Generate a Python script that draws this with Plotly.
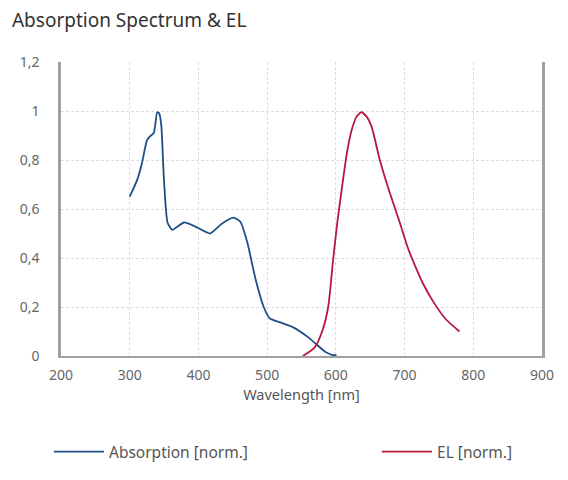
import plotly.graph_objects as go

# Absorption spectrum (normalised)
abs_wl = [300, 311, 318, 325, 329, 335, 337, 340, 343, 346, 350, 355, 362,
          379, 398, 417, 434, 451, 461, 471, 483, 495, 504, 519, 538, 558,
          574, 585, 595, 601]
abs_val = [0.65, 0.72, 0.79, 0.88, 0.895, 0.91, 0.94, 0.995, 0.99, 0.94,
           0.71, 0.545, 0.515, 0.545, 0.525, 0.50, 0.54, 0.565, 0.548, 0.465,
           0.315, 0.20, 0.153, 0.137, 0.117, 0.08, 0.042, 0.016, 0.004,
           0.003]

# Electroluminescence (normalised)
el_wl = [552, 569, 581, 589, 596, 602, 609, 616, 623, 630, 637, 645, 652,
         664, 678, 693, 705, 715, 727, 741, 760, 780]
el_val = [0.0, 0.034, 0.108, 0.203, 0.393, 0.542, 0.69, 0.827, 0.922, 0.976,
          0.995, 0.976, 0.936, 0.80, 0.67, 0.545, 0.44, 0.37, 0.295, 0.225,
          0.15, 0.10]

x_ticks = [200, 300, 400, 500, 600, 700, 800, 900]
y_ticks = [0, 0.2, 0.4, 0.6, 0.8, 1.0, 1.2]
y_labels = ['0', '0,2', '0,4', '0,6', '0,8', '1', '1,2']

blue = '#1E4F86'
red = '#B8173F'
axis_grey = '#A0A0A0'

fig = go.Figure()

fig.add_trace(go.Scatter(
    x=abs_wl,
    y=abs_val,
    mode='lines',
    line=dict(color=blue, width=1.8, shape='spline', smoothing=0.5),
    name='Absorption [norm.]',
    legend='legend',
    showlegend=True
    )
)

fig.add_trace(go.Scatter(
    x=el_wl,
    y=el_val,
    mode='lines',
    line=dict(color=red, width=1.8, shape='spline', smoothing=0.6),
    name='EL [norm.]',
    legend='legend2',
    showlegend=True
    )
)

# page has an 8px body margin, so the margins below are shifted by that
fig.update_layout(
    width=568,
    height=480,
    showlegend=True,
    font=dict(family='Noto Sans', size=14, color='#666666'),
    title=dict(
        text='Absorption Spectrum &amp; EL',
        font=dict(size=19, color='#333333'),
        xref='container', x=0.007, xanchor='left',
        yref='container', y=0.975, yanchor='middle'
    ),
    paper_bgcolor='#ffffff',
    plot_bgcolor='#ffffff',
    margin=dict(l=50, r=34, t=54, b=132),
    legend=dict(
        x=-0.025, xanchor='left', y=-0.327, yanchor='middle',
        itemwidth=50,
        font=dict(size=15.5, color='#555555'),
        bgcolor='rgba(0,0,0,0)'
    ),
    legend2=dict(
        x=0.657, xanchor='left', y=-0.327, yanchor='middle',
        itemwidth=50,
        font=dict(size=15.5, color='#555555'),
        bgcolor='rgba(0,0,0,0)'
    ),
)

fig.update_xaxes(
    range=[200, 900],
    tickvals=x_ticks,
    showline=True, linecolor=axis_grey, linewidth=2,
    showgrid=True, gridcolor='#DDDDDD', griddash='3px,2px', gridwidth=1,
    zeroline=False,
    ticks='', ticklabelstandoff=5,
    title=dict(text='Wavelength [nm]', font=dict(size=14.5, color='#555555'),
               standoff=3)
)

fig.update_yaxes(
    range=[0, 1.2],
    tickvals=y_ticks,
    ticktext=y_labels,
    showline=True, linecolor=axis_grey, linewidth=2.5, mirror=True,
    showgrid=True, gridcolor='#DDDDDD', griddash='3px,2px', gridwidth=1,
    zeroline=False,
    ticks='', ticklabelstandoff=16
)

fig.write_html('out.html')
